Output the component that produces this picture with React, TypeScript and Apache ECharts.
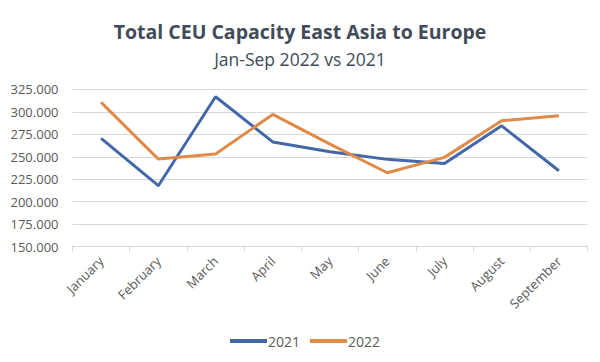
import React, { useEffect, useRef } from "react";
import * as echarts from "echarts";

const months = ["January", "February", "March", "April", "May", "June", "July", "August", "September"];
const values2021 = [270400, 217800, 316700, 266500, 255600, 247100, 242600, 284400, 234400];
const values2022 = [310400, 247400, 253000, 297100, 264000, 232200, 249300, 290000, 295600];
const yMin = 150000;
const yMax = 325000;
const yStep = 25000;

const FONT = "'Open Sans', 'Noto Sans', sans-serif";

export default function App() {
  const ref = useRef<HTMLDivElement>(null);
  useEffect(() => {
    document.body.style.margin = "0";
    const chart = echarts.init(ref.current!, null, { renderer: "svg" });
    chart.setOption({
      animation: false,
      backgroundColor: "#ffffff",
      title: [
        {
          text: "Total CEU Capacity East Asia to Europe",
          left: "center",
          top: 16,
          textStyle: { fontFamily: FONT, fontSize: 19.5, fontWeight: "bold", color: "#414b59" },
        },
        {
          text: "Jan-Sep 2022 vs 2021",
          left: "center",
          top: 45,
          textStyle: { fontFamily: FONT, fontSize: 17.5, fontWeight: "normal", color: "#414b59" },
        },
      ],
      legend: {
        bottom: 9,
        left: 225,
        itemWidth: 37,
        itemHeight: 4,
        itemGap: 10,
        icon: "rect",
        textStyle: { fontFamily: FONT, fontSize: 14, color: "#595959", padding: [0, 0, 0, -4] },
        data: ["2021", "2022"],
      },
      grid: { left: 72.5, right: 12.5, top: 89.3, bottom: 115.3, containLabel: false },
      xAxis: {
        type: "category",
        data: months,
        boundaryGap: true,
        axisLine: { show: true, lineStyle: { color: "#d9d9d9", width: 1 } },
        axisTick: { show: true, length: 5, lineStyle: { color: "#d9d9d9" } },
        axisLabel: {
          rotate: 45,
          fontFamily: FONT,
          fontSize: 13,
          color: "#595959",
          margin: 12,
          interval: 0,
        },
      },
      yAxis: {
        type: "value",
        min: yMin,
        max: yMax,
        interval: yStep,
        axisLine: { show: false },
        axisTick: { show: false },
        splitLine: { lineStyle: { color: "#d9d9d9", width: 1 } },
        axisLabel: {
          fontFamily: FONT,
          fontSize: 13,
          color: "#595959",
          margin: 14,
          formatter: (v: number) => (v / 1000).toFixed(3),
        },
      },
      series: [
        {
          name: "2021",
          type: "line",
          data: values2021,
          symbol: "none",
          lineStyle: { color: "#4268a8", width: 3 },
          itemStyle: { color: "#4268a8" },
        },
        {
          name: "2022",
          type: "line",
          data: values2022,
          symbol: "none",
          lineStyle: { color: "#e08a48", width: 3 },
          itemStyle: { color: "#e08a48" },
        },
      ],
    });
    return () => chart.dispose();
  }, []);
  return <div ref={ref} style={{ width: 600, height: 362 }} />;
}
